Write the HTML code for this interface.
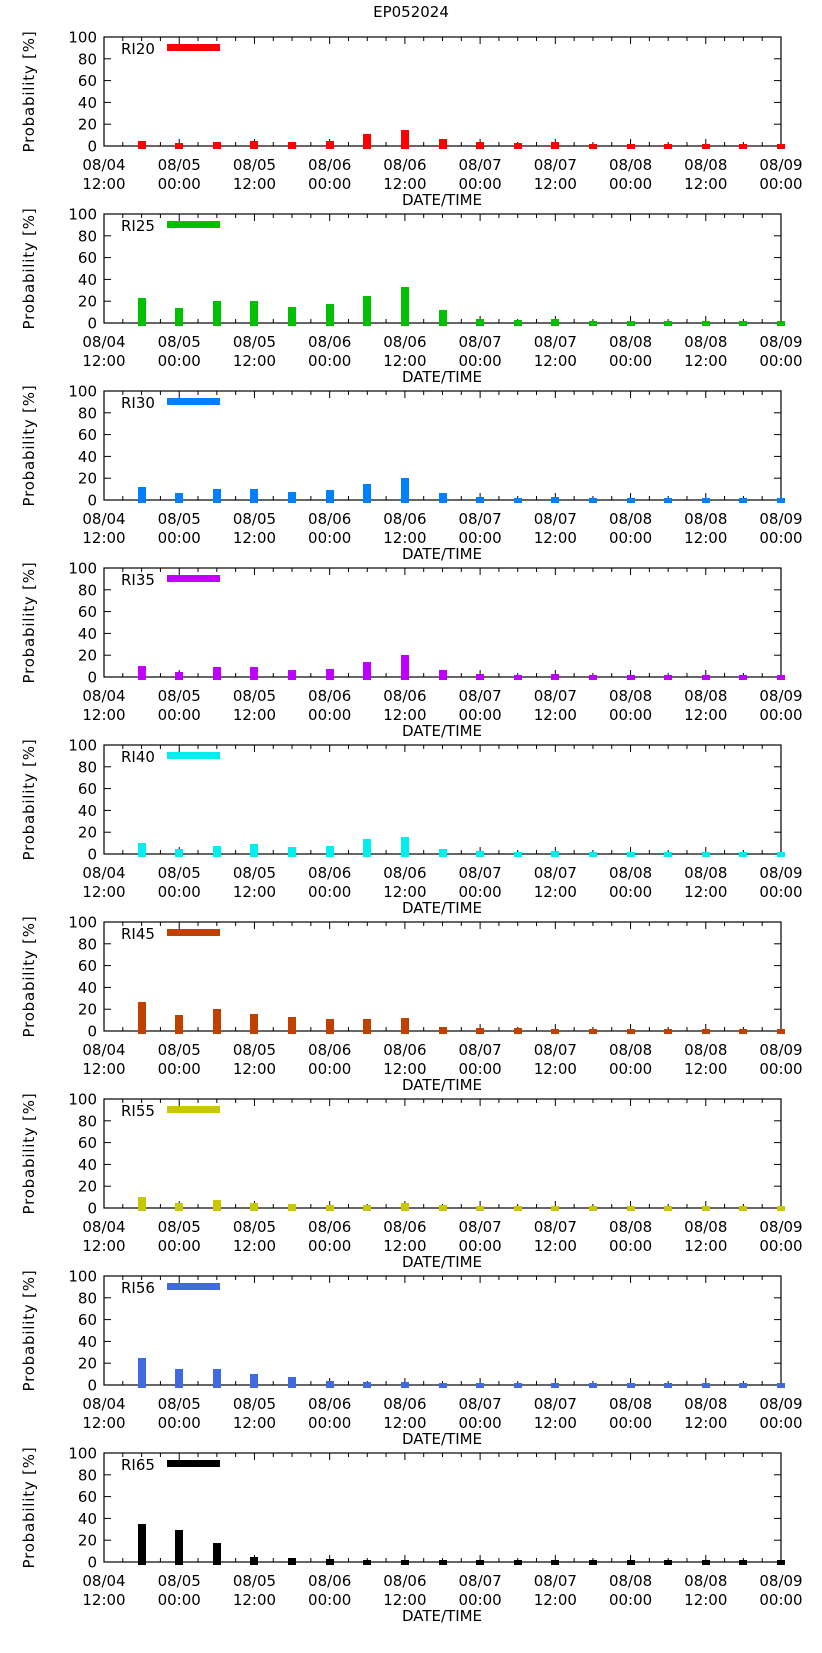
<!DOCTYPE html>
<html><head><meta charset="utf-8"><style>
html,body{margin:0;padding:0;background:#fff;}
svg{display:block;font-family:"DejaVu Sans","Liberation Sans",sans-serif;}
</style></head><body>
<svg id="chart" width="822" height="1653" viewBox="0 0 822 1653" xmlns="http://www.w3.org/2000/svg">
<text x="411" y="17" font-size="15" text-anchor="middle">EP052024</text>
</svg>
<script>
// data
const seriesNames = ["RI20","RI25","RI30","RI35","RI40","RI45","RI55","RI56","RI65"];
const seriesColors = ["#ff0000","#00c000","#0080ff","#c000ff","#00eeee","#c04000","#c8c800","#4169e1","#000000"];
const barHours = [6,12,18,24,30,36,42,48,54,60,66,72,78,84,90,96,102,108]; // hours after 08/04 12:00
const ri20 = [5,3,4,5,4,5,11,15,6,4,3,4,2,2,2,2,2,2];
const ri25 = [23,14,20,20,15,17,25,33,12,4,3,4,2,2,2,2,2,2];
const ri30 = [12,6,10,10,7,9,15,20,6,3,2,3,2,2,2,2,2,2];
const ri35 = [10,5,9,9,6,7,14,20,6,3,2,3,2,2,2,2,2,2];
const ri40 = [10,5,7,9,6,7,14,16,5,3,2,3,2,2,2,2,2,2];
const ri45 = [27,15,20,16,13,11,11,12,4,3,3,2,2,2,2,2,2,2];
const ri55 = [10,5,7,5,4,3,3,5,3,2,2,2,2,2,2,2,2,2];
const ri56 = [25,15,15,10,7,4,3,3,2,2,2,2,2,2,2,2,2,2];
const ri65 = [35,29,17,5,4,3,2,2,2,2,2,2,2,2,2,2,2,2];
const allValues = [ri20,ri25,ri30,ri35,ri40,ri45,ri55,ri56,ri65];
const xTickHours = [0,12,24,36,48,60,72,84,96,108];
const xTickLine1 = ["08/04","08/05","08/05","08/06","08/06","08/07","08/07","08/08","08/08","08/09"];
const xTickLine2 = ["12:00","00:00","12:00","00:00","12:00","00:00","12:00","00:00","12:00","00:00"];
const yTicks = [0,20,40,60,80,100];

const svg = document.getElementById('chart');
const NS = "http://www.w3.org/2000/svg";
const L = 104, R = 781, PH = 109, STEP = 177, TOP0 = 37;
function xS(h){ return L + h/108*(R-L); }
function mk(tag, attrs, parent){
  const e = document.createElementNS(NS, tag);
  for (const k in attrs) e.setAttribute(k, attrs[k]);
  (parent||svg).appendChild(e); return e;
}
seriesNames.forEach((name, i) => {
  const top = TOP0 + i*STEP, base = top + PH;
  const yS = v => base - v/100*PH;
  const g = mk('g', {});
  
  
  const fr = mk('rect', {x: L, y: top, width: R-L, height: PH, fill: 'none', stroke: '#000', 'stroke-width': 1.2}, g);
  
  
  yTicks.forEach(t => {
    const y = yS(t);
    mk('line', {x1: L, x2: L+7, y1: y, y2: y, stroke: '#000'}, g);
    mk('line', {x1: R-7, x2: R, y1: y, y2: y, stroke: '#000'}, g);
    const tl = mk('text', {x: L-7, y: y+5.5, 'font-size': 15, 'text-anchor': 'end'}, g);
    tl.textContent = t;
    
    
  });
  for (let h = 0; h <= 108; h += 3) {
    const x = xS(h), len = (h % 12 === 0) ? 7 : 4;
    mk('line', {x1: x, x2: x, y1: base, y2: base-len, stroke: '#000'}, g);
    mk('line', {x1: x, x2: x, y1: top, y2: top+len, stroke: '#000'}, g);
  }
  allValues[i].forEach((v, j) => {
    const cx = Math.round(xS(barHours[j]));
    const yt = Math.round(yS(v));
    const b = mk('rect', {x: cx-4, y: yt, width: 8, height: Math.round(base) - yt + 3, fill: seriesColors[i], 'shape-rendering': 'crispEdges'}, g);
    
    
  });
  xTickHours.forEach((h, k) => {
    const t1 = mk('text', {x: xS(h), y: base+24, 'font-size': 15, 'text-anchor': 'middle'}, g);
    t1.textContent = xTickLine1[k];
    
    
    const t2 = mk('text', {x: xS(h), y: base+43, 'font-size': 15, 'text-anchor': 'middle'}, g);
    t2.textContent = xTickLine2[k];
    
    
  });
  const xt = mk('text', {x: 442, y: base+59, 'font-size': 15, 'text-anchor': 'middle'}, g);
  xt.textContent = 'DATE/TIME';
  
  
  const yt = mk('text', {x: 0, y: 0, 'font-size': 15, 'letter-spacing': 0.8, 'text-anchor': 'middle', transform: 'translate(34,' + (top+PH/2) + ') rotate(-90)'}, g);
  yt.textContent = 'Probability [%]';
  
  
  const lt = mk('text', {x: 121, y: top+17, 'font-size': 15}, g);
  lt.textContent = name;
  
  
  const ls = mk('rect', {x: 167, y: top+7, width: 53, height: 7, fill: seriesColors[i]}, g);
  
  
});
</script>
</body></html>
